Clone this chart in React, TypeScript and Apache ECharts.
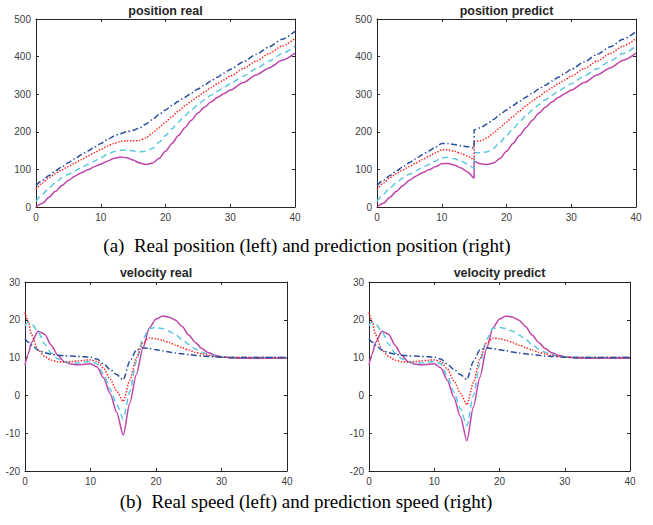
import React, { useEffect, useRef } from "react";
import * as echarts from "echarts";

// ---------- data ----------
const T_POS = [0,1,2,3,4,5,6,7,8,9,10,11,12,13,14,15,16,17,18,19,20,21,22,23,24,25,26,27,28,29,30,32,34,36,38,40];
const POS_REAL_MAGENTA = [0,10,26,42,57,71,82,91,99,107,114,122,129,133,131,125,117,113,117,129,148,169,190,211,231,250,265,279,291,301,311,331,351,370,390,409];
const POS_REAL_CYAN = [15,34,51,65,77,87,96,105,113,122,131,140,147,151,151,149,147,148,156,172,190,208,226,243,258,272,285,297,308,318,328,348,368,388,408,428];
const POS_REAL_RED = [47,64,78,89,99,108,117,126,135,144,153,162,169,174,176,176,177,184,197,211,226,241,255,269,282,294,306,317,328,338,348,368,388,408,428,448];
const POS_REAL_BLUE = [57,71,84,96,107,118,128,139,149,159,169,179,188,195,200,204,210,221,233,246,258,270,281,292,303,314,324,335,345,356,366,386,406,426,446,467];

const T_POS_PRED = [0,1,2,3,4,5,6,7,8,9,10,11,12,13,14,15,15,16,17,18,19,20,21,22,23,24,25,26,27,28,29,30,32,34,36,38,40];
const POS_PRED_MAGENTA = [0,10,26,42,57,71,82,91,99,107,115,116,111,104,93,77,121,115,113,117,129,148,169,190,211,231,250,265,279,291,301,311,331,351,370,390,409];
const POS_PRED_CYAN = [15,34,51,65,77,87,96,105,113,122,131,132,128,122,114,103,145,144,147,156,172,190,208,226,243,258,272,285,297,308,318,328,348,368,388,408,428];
const POS_PRED_RED = [47,64,78,89,99,108,117,126,135,144,152,152,148,142,135,126,174,176,184,197,211,226,241,255,269,282,294,306,317,328,338,348,368,388,408,428,448];
const POS_PRED_BLUE = [57,71,84,96,107,118,128,139,149,159,169,169,166,163,160,157,205,211,221,233,246,258,270,281,292,303,314,324,335,345,356,366,386,406,426,446,467];

const T_VEL = [0,0.5,1,2,3,4,5,6,7,8,9,10,11,12,13,14,15,16,17,18,19,20,21,22,23,24,25,26,27,28,29,30,32,34,36,38,40];
const VEL_REAL_MAGENTA = [8,11,14,17,16.2,13.3,10.6,8.9,8.3,8.1,8.2,8.4,7.5,4.6,0.5,-4.5,-10.5,-2,5.5,12.5,17.9,20.2,21,20.7,19.9,18.2,16,14,12.4,11.3,10.6,10.2,9.9,9.8,9.8,9.8,9.8];
const VEL_REAL_CYAN = [18.5,19.4,19,16.8,13.6,11.2,9.7,8.9,8.6,8.6,8.8,9,8.4,5.6,1.6,-2.4,-6.2,1,9,15,17.7,18,17.7,17,16,14.8,13.5,12.3,11.4,10.8,10.4,10.2,10,10,10,10,10];
const VEL_REAL_RED = [22,19.5,16,12,10.3,9.3,8.9,8.8,8.9,9.1,9.3,9.4,9,7.2,4.3,1.2,-1.6,4,10,13.8,15.2,15,14.6,14,13.3,12.6,12,11.4,11,10.6,10.3,10.1,10,10,10,10,10];
const VEL_REAL_BLUE = [15,14.1,13.3,12,11.3,10.9,10.6,10.5,10.4,10.3,10.2,10.1,9.6,8.3,6.9,5.5,4.1,9,12,12.6,12.4,12.1,11.8,11.5,11.2,11,10.8,10.6,10.4,10.3,10.2,10.1,10,10,10,10,10];

const VEL_PRED_MAGENTA = [8,11,14,17,16.2,13.3,10.6,8.9,8.3,8.1,8.2,8.4,7.3,4,-0.5,-5.6,-12,-3,4.8,12.3,17.9,20.2,21,20.7,19.9,18.2,16,14,12.4,11.3,10.6,10.2,9.9,9.8,9.8,9.8,9.8];
const VEL_PRED_CYAN = [18.5,19.4,19,16.8,13.6,11.2,9.7,8.9,8.6,8.6,8.8,9,8.4,5.2,0.9,-3.5,-8,0,8.5,14.8,17.7,18,17.7,17,16,14.8,13.5,12.3,11.4,10.8,10.4,10.2,10,10,10,10,10];
const VEL_PRED_RED = [22,19.5,16,12,10.3,9.3,8.9,8.8,8.9,9.1,9.3,9.4,9,7,3.9,0.6,-2.5,3.4,9.8,13.8,15.2,15,14.6,14,13.3,12.6,12,11.4,11,10.6,10.3,10.1,10,10,10,10,10];
const VEL_PRED_BLUE = [15,14.1,13.3,12,11.3,10.9,10.6,10.5,10.4,10.3,10.2,10.1,9.6,8.3,6.9,5.5,4.2,9,12,12.6,12.4,12.1,11.8,11.5,11.2,11,10.8,10.6,10.4,10.3,10.2,10.1,10,10,10,10,10];

const TITLES = ["position real", "position predict", "velocity real", "velocity predict"];
const CAPTIONS = [
  "(a)\u00a0\u00a0Real position (left) and prediction position (right)",
  "(b)\u00a0\u00a0Real speed (left) and prediction speed (right)",
];

// ---------- styles ----------
const COLORS = { magenta: "#BF45AA", cyan: "#5CC8E0", red: "#FF2020", blue: "#2B4D9F" };
const GRIDS = [
  { left: 36, top: 19, width: 259, height: 188 },
  { left: 377, top: 19, width: 259, height: 188 },
  { left: 25, top: 282, width: 262, height: 189 },
  { left: 369, top: 282, width: 261, height: 189 },
];
const TITLE_TOPS = [4, 4, 266, 266];
const AXIS_COLOR = "#262626";
const LABEL_COLOR = "#404040";

function zip(t: number[], v: number[]) {
  return t.map((x, i) => [x, v[i]]);
}

export default function App() {
  const ref = useRef<HTMLDivElement>(null);
  useEffect(() => {
    if (!ref.current) return;
    const chart = echarts.init(ref.current, undefined, { renderer: "svg" });

    const xAxis: any[] = [];
    const yAxis: any[] = [];
    GRIDS.forEach((_, i) => {
      const isPos = i < 2;
      const base = {
        gridIndex: i,
        type: "value",
        axisLine: { show: true, onZero: false, lineStyle: { color: AXIS_COLOR, width: 1 } },
        axisTick: { show: true, inside: true, length: 3, lineStyle: { color: AXIS_COLOR } },
        splitLine: { show: false },
      };
      xAxis.push({
        ...base, position: "bottom", min: 0, max: 40, interval: 10,
        axisLabel: { show: true, color: LABEL_COLOR, fontSize: 10, fontFamily: "Liberation Sans, Arial", margin: 5 },
      });
      xAxis.push({
        ...base, position: "top", min: 0, max: 40, interval: 10,
        axisLabel: { show: false },
      });
      const ymin = isPos ? 0 : -20;
      const ymax = isPos ? 500 : 30;
      const yint = isPos ? 100 : 10;
      yAxis.push({
        ...base, position: "left", min: ymin, max: ymax, interval: yint,
        axisLabel: { show: true, color: LABEL_COLOR, fontSize: 10, fontFamily: "Liberation Sans, Arial", margin: 5 },
      });
      yAxis.push({
        ...base, position: "right", min: ymin, max: ymax, interval: yint,
        axisLabel: { show: false },
      });
    });

    const mk = (i: number, t: number[], v: number[], color: string, dash: any, width = 1.5) => ({
      type: "line",
      xAxisIndex: 2 * i,
      yAxisIndex: 2 * i,
      data: zip(t, v),
      showSymbol: false,
      symbol: "none",
      smooth: 0.25,
      smoothMonotone: "x",
      lineStyle: { color, width, type: dash },
      silent: true,
    });

    const DASH = [6, 4];
    const DOT = [1.4, 1.6];
    const DASHDOT = [6, 2.5, 1.5, 2.5];

    const series = [
      mk(0, T_POS, POS_REAL_MAGENTA, COLORS.magenta, "solid"),
      mk(0, T_POS, POS_REAL_CYAN, COLORS.cyan, DASH),
      mk(0, T_POS, POS_REAL_RED, COLORS.red, DOT),
      mk(0, T_POS, POS_REAL_BLUE, COLORS.blue, DASHDOT),
      mk(1, T_POS_PRED, POS_PRED_MAGENTA, COLORS.magenta, "solid"),
      mk(1, T_POS_PRED, POS_PRED_CYAN, COLORS.cyan, DASH),
      mk(1, T_POS_PRED, POS_PRED_RED, COLORS.red, DOT),
      mk(1, T_POS_PRED, POS_PRED_BLUE, COLORS.blue, DASHDOT),
      mk(2, T_VEL, VEL_REAL_MAGENTA, COLORS.magenta, "solid"),
      mk(2, T_VEL, VEL_REAL_CYAN, COLORS.cyan, DASH),
      mk(2, T_VEL, VEL_REAL_RED, COLORS.red, DOT),
      mk(2, T_VEL, VEL_REAL_BLUE, COLORS.blue, DASHDOT),
      mk(3, T_VEL, VEL_PRED_MAGENTA, COLORS.magenta, "solid"),
      mk(3, T_VEL, VEL_PRED_CYAN, COLORS.cyan, DASH),
      mk(3, T_VEL, VEL_PRED_RED, COLORS.red, DOT),
      mk(3, T_VEL, VEL_PRED_BLUE, COLORS.blue, DASHDOT),
    ];

    const title = GRIDS.map((g, i) => ({
      text: TITLES[i],
      left: g.left + g.width / 2,
      top: TITLE_TOPS[i],
      textAlign: "center",
      padding: 0,
      textStyle: { fontSize: 12.5, fontWeight: "bold", color: "#262626", fontFamily: "Liberation Sans, Arial" },
    }));

    const captionFont = "19px 'Liberation Serif', 'Times New Roman', serif";

    chart.setOption({
      animation: false,
      backgroundColor: "#ffffff",
      title,
      grid: GRIDS.map((g) => ({ ...g, containLabel: false })),
      xAxis,
      yAxis,
      series,
      graphic: [
        {
          type: "text",
          x: 307,
          y: 245,
          style: { text: CAPTIONS[0], font: captionFont, fill: "#000", align: "center", verticalAlign: "middle" },
        },
        {
          type: "text",
          x: 306,
          y: 501,
          style: { text: CAPTIONS[1], font: captionFont, fill: "#000", align: "center", verticalAlign: "middle" },
        },
      ],
    });
    return () => chart.dispose();
  }, []);

  return (
    <div
      ref={ref}
      style={{ position: "fixed", left: 0, top: 0, width: 653, height: 525, background: "#fff" }}
    />
  );
}
